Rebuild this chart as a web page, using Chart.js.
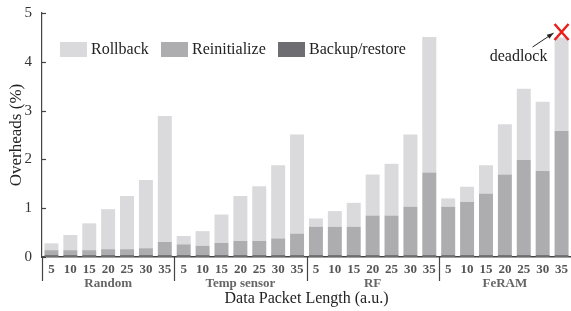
<!DOCTYPE html>
<html>
<head>
<meta charset="utf-8">
<script src="https://cdn.jsdelivr.net/npm/chart.js@4"></script>
<style>
  html, body { margin: 0; padding: 0; background: #fff; }
  #wrap { width: 571px; height: 311px; }
</style>
</head>
<body>
<div id="wrap"><canvas id="overheadChart"></canvas></div>
<script>
// Data
const groups = ['Random', 'Temp sensor', 'RF', 'FeRAM'];
const packetLengths = ['5', '10', '15', '20', '25', '30', '35'];
const yTicks = [0, 1, 2, 3, 4, 5];

// stacked segments, one value per bar (7 per group, groups in order above)
const backupRestore = [
  0.04, 0.04, 0.04, 0.04, 0.04, 0.04, 0.04,
  0.04, 0.04, 0.04, 0.04, 0.04, 0.04, 0.04,
  0.04, 0.04, 0.04, 0.04, 0.04, 0.04, 0.04,
  0.04, 0.04, 0.04, 0.04, 0.04, 0.04, 0.04
];
const reinitialize = [
  0.10, 0.10, 0.10, 0.12, 0.12, 0.14, 0.27,
  0.22, 0.19, 0.25, 0.29, 0.29, 0.34, 0.44,
  0.58, 0.58, 0.58, 0.81, 0.81, 0.99, 1.69,
  0.99, 1.09, 1.26, 1.65, 1.95, 1.72, 2.54
];
const rollback = [
  0.14, 0.31, 0.55, 0.82, 1.09, 1.40, 2.58,
  0.17, 0.30, 0.58, 0.92, 1.12, 1.50, 2.03,
  0.17, 0.32, 0.49, 0.84, 1.06, 1.48, 2.78,
  0.17, 0.31, 0.58, 1.03, 1.46, 1.42, 1.92
];

// Colors
const rollbackColor = '#dadadc',
  reinitColor = '#adadb0',
  backupColor = '#6e6e72',
  axisColor = '#444',
  tickColor = '#555',
  serif = '"Liberation Serif", "DejaVu Serif", serif';

const labels = [];
groups.forEach(function () {
  packetLengths.forEach(function (p) { labels.push(p); });
});

// legend, group labels, separators and the deadlock note drawn by hand
const decorations = {
  id: 'decorations',
  afterDraw(chart) {
    const ctx = chart.ctx;
    const x = chart.scales.x;
    const y = chart.scales.y;
    const area = chart.chartArea;
    const n = packetLengths.length;
    ctx.save();

    // y axis inward ticks
    ctx.strokeStyle = axisColor;
    ctx.lineWidth = 1.2;
    yTicks.forEach(function (t) {
      const py = Math.round(y.getPixelForValue(t)) + 0.5;
      ctx.beginPath();
      ctx.moveTo(area.left, py);
      ctx.lineTo(area.left + 4, py);
      ctx.stroke();
    });

    // axis extension and group separators
    const bottom = area.bottom + 24;
    ctx.beginPath();
    ctx.moveTo(area.left + 0.5, area.bottom);
    ctx.lineTo(area.left + 0.5, bottom);
    for (let g = 1; g < groups.length; g++) {
      const sx = Math.round((x.getPixelForValue(g * n - 1) + x.getPixelForValue(g * n)) / 2) + 0.5;
      ctx.moveTo(sx, area.bottom);
      ctx.lineTo(sx, bottom);
    }
    ctx.stroke();

    // group names
    ctx.fillStyle = '#666';
    ctx.font = 'bold 13px ' + serif;
    ctx.textAlign = 'center';
    ctx.textBaseline = 'middle';
    groups.forEach(function (name, g) {
      const cx = (x.getPixelForValue(g * n) + x.getPixelForValue(g * n + n - 1)) / 2;
      ctx.fillText(name, cx, area.bottom + 27);
    });

    // axis titles
    ctx.fillStyle = '#222';
    ctx.font = '16px ' + serif;
    ctx.fillText('Data Packet Length (a.u.)', (area.left + area.right) / 2, area.bottom + 42);
    ctx.save();
    ctx.translate(17, (area.top + area.bottom) / 2);
    ctx.rotate(-Math.PI / 2);
    ctx.font = '17px ' + serif;
    ctx.fillText('Overheads (%)', 0, 0);
    ctx.restore();

    // legend inside plot
    const legendItems = [
      { text: 'Rollback', color: rollbackColor, x: 60 },
      { text: 'Reinitialize', color: reinitColor, x: 161 },
      { text: 'Backup/restore', color: backupColor, x: 278 }
    ];
    ctx.font = '16px ' + serif;
    ctx.textAlign = 'left';
    legendItems.forEach(function (item) {
      ctx.fillStyle = item.color;
      ctx.fillRect(item.x, 42, 27, 15);
      ctx.fillStyle = '#222';
      ctx.fillText(item.text, item.x + 31, 50);
    });

    // deadlock marker on the last FeRAM bar
    const lastX = x.getPixelForValue(labels.length - 1);
    const markY = y.getPixelForValue(4.61);
    ctx.strokeStyle = '#e8201c';
    ctx.lineWidth = 2.5;
    ctx.beginPath();
    ctx.moveTo(lastX - 7, markY - 8);
    ctx.lineTo(lastX + 7, markY + 8);
    ctx.moveTo(lastX + 7, markY - 8);
    ctx.lineTo(lastX - 7, markY + 8);
    ctx.stroke();

    ctx.fillStyle = '#222';
    ctx.textAlign = 'center';
    ctx.fillText('deadlock', lastX - 43, markY + 25);
    // arrow
    const ax0 = lastX - 29, ay0 = markY + 15, ax1 = lastX - 8, ay1 = markY + 1;
    ctx.strokeStyle = '#222';
    ctx.lineWidth = 1;
    ctx.beginPath();
    ctx.moveTo(ax0, ay0);
    ctx.lineTo(ax1, ay1);
    ctx.stroke();
    const ang = Math.atan2(ay1 - ay0, ax1 - ax0);
    ctx.fillStyle = '#222';
    ctx.beginPath();
    ctx.moveTo(ax1, ay1);
    ctx.lineTo(ax1 - 7 * Math.cos(ang - 0.35), ay1 - 7 * Math.sin(ang - 0.35));
    ctx.lineTo(ax1 - 7 * Math.cos(ang + 0.35), ay1 - 7 * Math.sin(ang + 0.35));
    ctx.closePath();
    ctx.fill();

    ctx.restore();
  }
};

const overheadChart = new Chart(document.getElementById('overheadChart'), {
  type: 'bar',
  data: {
    labels: labels,
    datasets: [
      { label: 'Backup/restore', data: backupRestore, backgroundColor: backupColor },
      { label: 'Reinitialize', data: reinitialize, backgroundColor: reinitColor },
      { label: 'Rollback', data: rollback, backgroundColor: rollbackColor }
    ]
  },
  options: {
    responsive: true,
    maintainAspectRatio: false,
    animation: false,
    layout: { padding: { top: 13, right: 0, left: 0, bottom: 0 } },
    datasets: {
      bar: { categoryPercentage: 1, barPercentage: 0.74, borderWidth: 0 }
    },
    plugins: {
      legend: { display: false },
      tooltip: { enabled: false }
    },
    scales: {
      x: {
        stacked: true,
        afterFit: function (scale) {
          scale.height = 54;
          scale.paddingLeft = 0;
          scale.paddingRight = 0;
        },
        grid: { display: false, drawTicks: false },
        border: { display: true, color: axisColor, width: 1.5 },
        ticks: {
          autoSkip: false,
          maxRotation: 0,
          padding: 5,
          color: tickColor,
          font: { family: serif, size: 13, weight: 'bold' }
        }
      },
      y: {
        stacked: true,
        min: 0,
        max: 5,
        afterFit: function (scale) {
          scale.width = 42;
          scale.paddingTop = 0;
          scale.paddingBottom = 0;
        },
        grid: { display: false, drawTicks: false },
        border: { display: true, color: axisColor, width: 1.2 },
        ticks: {
          stepSize: 1,
          padding: 10,
          color: '#333',
          font: { family: serif, size: 15 }
        }
      }
    }
  },
  plugins: [decorations]
});
</script>
</body>
</html>
